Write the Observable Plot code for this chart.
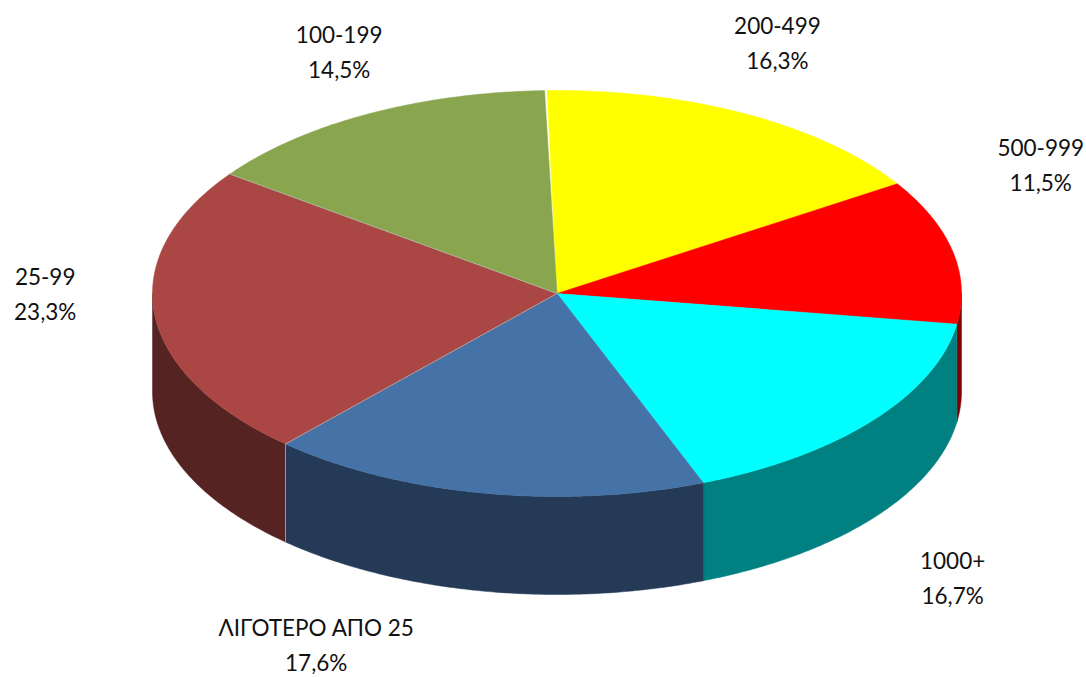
<!DOCTYPE html>
<html>
<head>
<meta charset="utf-8">
<style>html,body{margin:0;padding:0;background:#fff}svg{display:block}</style>
<script src="https://cdn.jsdelivr.net/npm/d3@7"></script>
<script src="https://cdn.jsdelivr.net/npm/@observablehq/plot@0.6"></script>
</head>
<body>
<div id="chart"></div>
<script>
const categories = ["200-499", "500-999", "1000+", "ΛΙΓΟΤΕΡΟ ΑΠΟ 25", "25-99", "100-199"];
const shares = [16.3, 11.5, 16.7, 17.6, 23.3, 14.5];
const shareLabels = ["16,3%", "11,5%", "16,7%", "17,6%", "23,3%", "14,5%"];
const topColors = ["#FFFF00", "#FF0000", "#00FFFF", "#4572A7", "#AA4643", "#89A54E"];
const wallColors = ["#808000", "#800000", "#008080", "#243A56", "#552322", "#4A5A2A"];

// Presentation settings of the pie
const startAngle = -1.4;       // degrees clockwise from the top
const depth = 98 / 203;        // wall height, in units of the ellipse's minor radius
const labelPull = 1.2;
const labelNudge = [[-7, -38], [9, -80.5], [17, 129], [-152.5, 109.5], [-29, -27], [9, -29]];

const rad = (a) => a * Math.PI / 180;
let cursor = startAngle;
const slices = categories.map((name, i) => {
  const a0 = cursor;
  const a1 = cursor + shares[i] * 3.6;
  cursor = a1;
  return {name, label: `${name}\n${shareLabels[i]}`, a0, a1, mid: (a0 + a1) / 2, top: topColors[i], wall: wallColors[i], nudge: labelNudge[i]};
});

const arc = (a0, a1) => {
  const n = Math.max(2, Math.ceil((a1 - a0) * 2));
  return d3.range(n + 1).map((k) => a0 + (a1 - a0) * k / n);
};
const onRim = (a) => ({x: Math.sin(rad(a)), y: Math.cos(rad(a))});

// Top face of a slice: centre, then along the rim
const topFace = (s) => [{x: 0, y: 0}, ...arc(s.a0, s.a1).map(onRim), {x: 0, y: 0}];

// Outer wall of a slice: only the front half (90..270 degrees) can be seen
const wallFace = (s) => {
  const a0 = Math.max(s.a0, 90), a1 = Math.min(s.a1, 270);
  if (a1 <= a0) return [];
  const rim = arc(a0, a1).map(onRim);
  return [...rim, ...rim.slice().reverse().map((p) => ({x: p.x, y: p.y - depth}))];
};

const line = (pts, o) => Plot.line(pts, {x: "x", y: "y", curve: "linear-closed", ...o});

const marks = [];
// back to front: the walls to the sides are drawn first
for (const s of [slices[1], slices[4], slices[2], slices[3]]) {
  const pts = wallFace(s);
  if (pts.length) marks.push(line(pts, {fill: s.wall, stroke: s.wall, strokeWidth: 0.5}));
}
// seam between the two dark walls
const seamAt = onRim(slices[3].a1);
marks.push(Plot.line([seamAt, {x: seamAt.x, y: seamAt.y - depth}], {x: "x", y: "y", stroke: "#9a9a9a", strokeWidth: 1}));

for (const s of slices) marks.push(line(topFace(s), {fill: s.top, stroke: s.top, strokeWidth: 0.5}));

// faint spokes between the muted slices
for (const i of [3, 4]) {
  const p = onRim(slices[i].a1);
  marks.push(Plot.line([{x: 0, y: 0}, p], {x: "x", y: "y", stroke: "#bcbcbc", strokeWidth: 0.7}));
}

for (const s of slices) {
  const p = onRim(s.mid);
  marks.push(Plot.text([s], {
    x: () => p.x * labelPull,
    y: () => p.y * labelPull,
    text: "label",
    dx: s.nudge[0],
    dy: s.nudge[1],
    textAnchor: "middle",
    lineHeight: 1.556,
    fontSize: 22.5,
    fontFamily: "Lato",
    fill: "#111"
  }));
}

document.getElementById("chart").append(Plot.plot({
  width: 1086,
  height: 677,
  margin: 0,
  style: {background: "#fff"},
  x: {domain: [-1, 1], range: [152, 961], axis: null},
  y: {domain: [-1, 1], range: [496, 90], axis: null},
  marks
}));
</script>
</body>
</html>
